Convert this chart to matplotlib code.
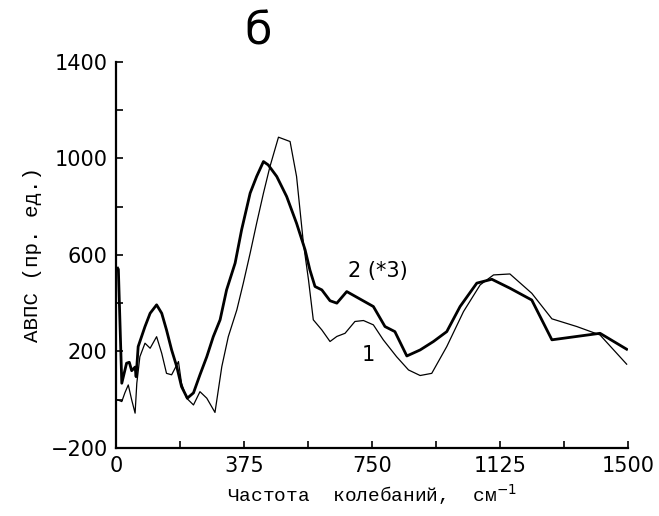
import numpy as np
import matplotlib.pyplot as plt

# curve 1 (thin)
x1 = [5, 17, 26, 36, 46, 56, 61, 70, 85, 100, 119, 134, 148, 163, 173, 183, 192,
      207, 227, 246, 266, 290, 310, 329, 354, 373, 393, 412, 432, 451, 476, 510,
      529, 549, 564, 578, 603, 627, 647, 671, 700, 725, 754, 783, 822, 857, 891,
      925, 969, 1018, 1067, 1106, 1154, 1218, 1277, 1350, 1418, 1496]
y1 = [-1, -8, 28, 61, -1, -56, 68, 178, 234, 213, 261, 192, 109, 103, 130, 158, 68,
      6, -22, 33, 6, -53, 137, 261, 372, 483, 607, 731, 856, 966, 1088, 1070,
      925, 649, 496, 331, 289, 241, 262, 275, 324, 328, 310, 248, 178, 123, 100,
      109, 220, 365, 476, 517, 521, 441, 335, 303, 268, 147]

# curve 2 (thick), scaled x3
x2 = [5, 7, 17, 31, 39, 46, 56, 59, 65, 85, 100, 119, 134, 148, 163, 178, 192,
      209, 227, 246, 266, 285, 305, 324, 349, 368, 393, 412, 432, 446, 471, 500,
      529, 554, 568, 583, 603, 627, 647, 676, 754, 788, 817, 852, 891, 930, 969,
      1008, 1057, 1101, 1154, 1218, 1277, 1350, 1418, 1496]
y2 = [545, 540, 68, 151, 155, 120, 135, 95, 220, 303, 358, 393, 358, 289, 206, 137, 54,
      6, 28, 103, 178, 261, 331, 455, 566, 704, 856, 925, 987, 973, 925, 842,
      731, 621, 538, 469, 455, 410, 400, 448, 386, 303, 282, 181, 206, 241, 282,
      386, 483, 499, 462, 413, 248, 262, 275, 209]

xticks = np.arange(0, 1501, 187.5)
xlabels = ['0', '', '375', '', '750', '', '1125', '', '1500']
yticks = np.arange(-200, 1401, 200)
ylabels = ['\u2212200', '', '200', '', '600', '', '1000', '', '1400']

fig = plt.figure(figsize=(6.59, 5.16), dpi=100)
ax = fig.add_axes([0.176, 0.132, 0.777, 0.748])

ax.plot(x1, y1, color='black', lw=0.9)
ax.plot(x2, y2, color='black', lw=2.0)

ax.set_xlim(0, 1500)
ax.set_ylim(-200, 1400)
ax.spines['top'].set_visible(False)
ax.spines['right'].set_visible(False)
ax.spines['left'].set_linewidth(1.6)
ax.spines['bottom'].set_linewidth(1.6)

ax.set_xticks(xticks)
ax.set_xticklabels(xlabels)
ax.set_yticks(yticks)
ax.set_yticklabels(ylabels)
ax.tick_params(direction='in', length=5, width=1.2, labelsize=15, pad=6)

ax.text(768, 534, '2 (*3)', fontsize=15, ha='center', va='center')
ax.text(738, 185, '1', fontsize=15, ha='center', va='center')

ax.set_xlabel('Частота  колебаний,  см$^{-1}$', fontsize=14,
              family='Liberation Mono', labelpad=4)
ax.set_ylabel('АВПС (пр. ед.)', fontsize=15, family='Liberation Mono', labelpad=6)

fig.text(0.392, 0.938, 'б', fontsize=32, ha='center', va='center')

fig.savefig('out.png', dpi=100)
